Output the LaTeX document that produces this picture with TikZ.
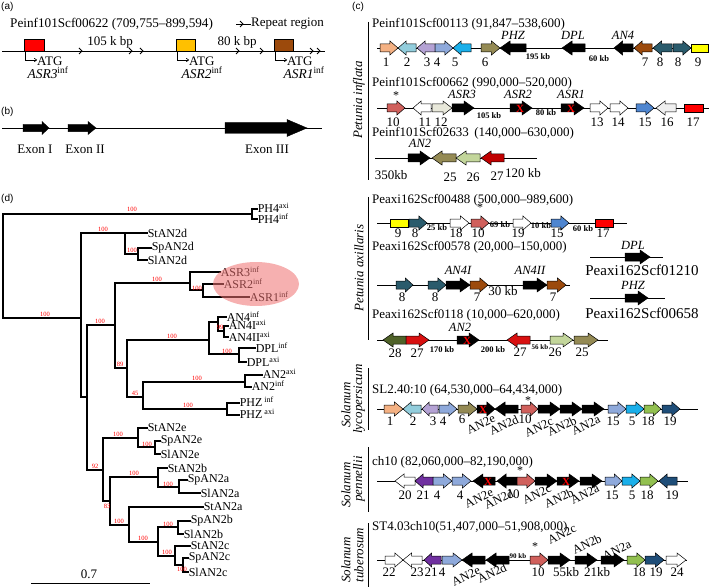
\documentclass[tikz,border=0pt]{standalone}
\usepackage{fontspec}
\usetikzlibrary{arrows.meta}
\setmainfont{Liberation Serif}
\setsansfont{Liberation Sans}
\definecolor{cpeach}{HTML}{F4B183}
\definecolor{clblue}{HTML}{92CDDC}
\definecolor{clav}{HTML}{B4A2D4}
\definecolor{csteel}{HTML}{8EA9DB}
\definecolor{cbright}{HTML}{1AAFEA}
\definecolor{colive}{HTML}{948A54}
\definecolor{cbrown}{HTML}{9C4A0C}
\definecolor{cteal}{HTML}{2A5B6C}
\definecolor{cyellow}{HTML}{FFFF00}
\definecolor{csalmon}{HTML}{D0605C}
\definecolor{cbeige}{HTML}{E8E8DA}
\definecolor{cblue}{HTML}{4F86D0}
\definecolor{cgray}{HTML}{EFEFEF}
\definecolor{cred}{HTML}{FF0000}
\definecolor{cdred}{HTML}{C00000}
\definecolor{cred2}{HTML}{D81010}
\definecolor{clgreen}{HTML}{C3D69B}
\definecolor{cdkgreen}{HTML}{4F6228}
\definecolor{cygreen}{HTML}{92C050}
\definecolor{cnavy}{HTML}{1F4E79}
\definecolor{cpurple}{HTML}{7030A0}
\definecolor{aorange}{HTML}{FFC000}
\definecolor{pinkE}{HTML}{EE7070}
\newcommand{\gR}[4]{%
 \pgfmathsetmacro{\gnhx}{#2-min(10,0.45*(#2-#1))}%
 \filldraw[gene,fill=#4] (#1,#3-4) -- (\gnhx,#3-4) -- (\gnhx,#3-7) -- (#2,#3) -- (\gnhx,#3+7) -- (\gnhx,#3+4) -- (#1,#3+4) -- cycle;}
\newcommand{\gL}[4]{%
 \pgfmathsetmacro{\gnhx}{#1+min(10,0.45*(#2-#1))}%
 \filldraw[gene,fill=#4] (#2,#3-4) -- (\gnhx,#3-4) -- (\gnhx,#3-7) -- (#1,#3) -- (\gnhx,#3+7) -- (\gnhx,#3+4) -- (#2,#3+4) -- cycle;}
\newcommand{\gB}[4]{\filldraw[gene,fill=#4] (#1,#3-4) rectangle (#2,#3+4);}
\newcommand{\gX}[2]{\node[redx] at (#1,#2) {X};}
\newcommand{\gnum}[3]{\node[num] at (#1,#2) {#3};}
\newcommand{\kbl}[3]{\node[kb] at (#1,#2) {#3};}
\newcommand{\gnl}[3]{\node[gn] at (#1,#2) {#3};}
\newcommand{\tleaf}[3]{\node[leaf] at (#1,#2) {#3};}
\newcommand{\bsl}[3]{\node[bs] at (#1,#2) {#3};}
\newcommand{\sps}[1]{\textsuperscript{#1}}
\begin{document}
\begin{tikzpicture}[x=1pt,y=-1pt,
 gene/.style={draw=black,line width=0.5pt},
 ln/.style={line width=0.75pt},
 tr/.style={line width=1.1pt,line cap=rect},
 pan/.style={font=\sffamily\fontsize{10}{11}\selectfont,inner sep=0pt,anchor=west},
 ttla/.style={font=\fontsize{13.2}{15}\selectfont,inner sep=0pt,anchor=west},
 ttl/.style={font=\fontsize{13}{15}\selectfont,inner sep=0pt,anchor=west},
 lab/.style={font=\fontsize{13}{14}\selectfont,inner sep=0pt},
 num/.style={font=\fontsize{13}{14}\selectfont,inner sep=0pt},
 kb/.style={font=\bfseries\fontsize{8.5}{9}\selectfont,inner sep=0pt},
 gn/.style={font=\itshape\fontsize{12.5}{13}\selectfont,inner sep=0pt},
 rl/.style={font=\fontsize{12.5}{13}\selectfont,inner sep=0pt,rotate=25},
 sp/.style={font=\itshape\fontsize{13}{14}\selectfont,inner sep=0pt,rotate=90},
 redx/.style={font=\bfseries\fontsize{11}{12}\selectfont,text=red,inner sep=0pt},
 leaf/.style={font=\fontsize{12}{13}\selectfont,inner sep=0.6pt,anchor=west},
 bs/.style={font=\fontsize{6.5}{7}\selectfont,text=red,inner sep=0pt},
 star/.style={font=\fontsize{12}{13}\selectfont,inner sep=0pt}]
\useasboundingbox (0,0) rectangle (709,588);

% ================= (a) =================
\node[pan] (pa) at (1,7) {(a)};
\node[ttla] (ta) at (10,24) {Peinf101Scf00622 (709,755--899,594)};
\draw[ln] (236,24) -- (251,24);
\draw[ln] (240,21) -- (243,24) -- (240,27);
\node[lab,anchor=west] (rep) at (251,24) {Repeat region};
\draw[ln] (2,51) -- (325,51);
\foreach \x in {82,132,143,239,263,313,320} \draw[ln] (\x-3,48) -- (\x,51) -- (\x-3,54);
\filldraw[gene,fill=cred] (24,39) rectangle (44,51);
\filldraw[gene,fill=aorange] (176,39) rectangle (195,51);
\filldraw[gene,fill=cbrown] (274,39) rectangle (293,51);
\foreach \x in {25,177,275} {
  \draw[line width=0.6pt,-{To[length=3pt,width=4pt]}] (\x,51) |- (\x+12,60);
  \node[lab,anchor=west] at (\x+12,61) {ATG};
}
\node[lab,font=\fontsize{13.5}{14}\selectfont] (asr3a) at (48,73) {\textit{ASR3}\sps{inf}};
\node[lab,font=\fontsize{13.5}{14}\selectfont] (asr2a) at (202,73) {\textit{ASR2}\sps{inf}};
\node[lab,font=\fontsize{13.5}{14}\selectfont] (asr1a) at (304,73) {\textit{ASR1}\sps{inf}};
\node[lab] (d105) at (110,42) {105 k bp};
\node[lab] (d80) at (237,42) {80 k bp};

% ================= (b) =================
\node[pan] (pb) at (1,112) {(b)};
\draw[ln] (2,128) -- (322,128);
\filldraw[black] (23,124.3) -- (42,124.3) -- (42,121.5) -- (49,128) -- (42,134.5) -- (42,131.7) -- (23,131.7) -- cycle;
\filldraw[black] (68,124.3) -- (88,124.3) -- (88,121.5) -- (96,128) -- (88,134.5) -- (88,131.7) -- (68,131.7) -- cycle;
\filldraw[black] (225,122.5) -- (287,122.5) -- (287,119.5) -- (307,128) -- (287,136.5) -- (287,133.5) -- (225,133.5) -- cycle;
\node[lab] (e1) at (35,149) {Exon I};
\node[lab] (e2) at (85,149) {Exon II};
\node[lab] (e3) at (267,149) {Exon III};

% ================= (d) tree =================
\node[pan] (pd) at (1,199) {(d)};
\draw[tr] (3,214) -- (3,318) (3,214) -- (252,214) (252,209) -- (252,219) (252,209) -- (257,209) (252,219) -- (257,219);
\draw[tr] (3,318) -- (81,318) (81,233) -- (81,397);
\draw[tr] (81,233) -- (125,233) (125,233) -- (125,254) (125,233) -- (147,233) (125,254) -- (138,254) (138,248) -- (138,260) (138,248) -- (151,248) (138,260) -- (147,260);
\draw[tr] (81,397) -- (87,397) (87,325) -- (87,470) (87,325) -- (115,325) (115,283) -- (115,368);
\draw[tr] (115,283) -- (190,283) (190,272) -- (190,290) (190,272) -- (220,272) (190,290) -- (203,290) (203,284) -- (203,297) (203,284) -- (223,284) (203,297) -- (249,297);
\draw[tr] (115,368) -- (127,368) (127,340) -- (127,397) (127,340) -- (209,340) (209,322) -- (209,354);
\draw[tr] (209,322) -- (218,322) (218,317) -- (218,331) (218,317) -- (226,317) (218,331) -- (224,331) (224,326) -- (224,337) (224,326) -- (228,326) (224,337) -- (228,337);
\draw[tr] (209,354) -- (239,354) (239,348) -- (239,362) (239,348) -- (255,348) (239,362) -- (246,362);
\draw[tr] (127,397) -- (143,397) (143,382) -- (143,409) (143,382) -- (245,382) (245,375) -- (245,387) (245,375) -- (262,375) (245,387) -- (251,387);
\draw[tr] (143,409) -- (227,409) (227,403) -- (227,415) (227,403) -- (239,403) (227,415) -- (239,415);
\draw[tr] (87,470) -- (103,470) (103,438) -- (103,501) (103,438) -- (138,438) (138,428) -- (138,447) (138,428) -- (147,428) (138,447) -- (155,447) (155,441) -- (155,454) (155,441) -- (160,441) (155,454) -- (160,454);
\draw[tr] (103,501) -- (110,501) (110,477) -- (110,525) (110,477) -- (158,477) (158,468) -- (158,487) (158,468) -- (167,468) (158,487) -- (179,487) (179,480) -- (179,493) (179,480) -- (187,480) (179,493) -- (200,493);
\draw[tr] (110,525) -- (129,525) (129,507) -- (129,542) (129,507) -- (203,507) (129,542) -- (158,542) (158,527) -- (158,556) (158,527) -- (178,527) (178,521) -- (178,534) (178,521) -- (190,521) (178,534) -- (183,534);
\draw[tr] (158,556) -- (175,556) (175,546) -- (175,565) (175,546) -- (190,546) (175,565) -- (183,565) (183,558) -- (183,572) (183,558) -- (188,558) (183,572) -- (188,572);
% leaves
\tleaf{257}{208}{PH4\sps{axi}}
\tleaf{257}{219}{PH4\sps{inf}}
\tleaf{147}{233}{StAN2d}
\tleaf{151}{248}{SpAN2d}
\tleaf{147}{260}{SlAN2d}
\tleaf{220}{272}{ASR3\sps{inf}}
\tleaf{223}{284}{ASR2\sps{inf}}
\tleaf{249}{297}{ASR1\sps{inf}}
\fill[pinkE,opacity=0.55] (256,284) ellipse [x radius=43, y radius=22];
\tleaf{226}{317}{AN4\sps{inf}}
\tleaf{228}{325}{AN4I\sps{axi}}
\tleaf{228}{337}{AN4II\sps{axi}}
\tleaf{255}{348}{DPL\sps{inf}}
\tleaf{246}{362}{DPL\sps{axi}}
\tleaf{262}{374}{AN2\sps{axi}}
\tleaf{251}{386}{AN2\sps{inf}}
\tleaf{239}{402}{PHZ\sps{ inf}}
\tleaf{239}{414}{PHZ\sps{ axi}}
\tleaf{147}{428}{StAN2e}
\tleaf{160}{441}{SpAN2e}
\tleaf{160}{454}{SlAN2e}
\tleaf{167}{468}{StAN2b}
\tleaf{187}{480}{SpAN2a}
\tleaf{200}{493}{SlAN2a}
\tleaf{203}{507}{StAN2a}
\tleaf{190}{521}{SpAN2b}
\tleaf{183}{534}{SlAN2b}
\tleaf{190}{546}{StAN2c}
\tleaf{188}{558}{SpAN2c}
\tleaf{188}{572}{SlAN2c}
% bootstrap
\bsl{132}{209}{100} \bsl{45}{314}{100} \bsl{103}{229}{100} \bsl{132}{250}{100}
\bsl{100}{321}{100} \bsl{157}{279}{100} \bsl{197}{288}{100} \bsl{120}{364}{89}
\bsl{172}{336}{100} \bsl{220}{327}{99} \bsl{227}{351}{100} \bsl{135}{393}{45}
\bsl{197}{378}{100} \bsl{188}{405}{100} \bsl{95}{466}{92} \bsl{118}{434}{100}
\bsl{147}{444}{100} \bsl{107}{506}{83} \bsl{134}{473}{100} \bsl{168}{484}{100}
\bsl{119}{521}{100} \bsl{143}{538}{100} \bsl{168}{524}{100} \bsl{167}{552}{100}
\bsl{182}{569}{100}
% scale bar
\draw[line width=1pt] (31,583) -- (150,583);
\node[lab] (sc) at (89,574) {0.7};

% ================= (c) =================
\node[pan] (pc) at (352,7) {(c)};
% species bars
\draw[line width=0.8pt] (368,22) -- (368,180);
\draw[line width=0.8pt] (368,197) -- (368,340);
\draw[line width=0.8pt] (368,368) -- (368,430);
\draw[line width=0.8pt] (368,447) -- (368,512);
\draw[line width=0.8pt] (368,523) -- (368,587);
\node[sp] (s1) at (359,100) {Petunia inflata};
\node[sp] (s2) at (359,268) {Petunia axillaris};
\node[sp] (s3a) at (346,405) {Solanum};
\node[sp] (s3b) at (359,399) {lycopersicum};
\node[sp] (s4a) at (346,485) {Solanum};
\node[sp] (s4b) at (359,479) {pennellii};
\node[sp] (s5a) at (346,560) {Solanum};
\node[sp] (s5b) at (359,555) {tuberosum};

% ---- row 1
\node[ttl] (r1) at (372,24) {Peinf101Scf00113 (91,847--538,600)};
\draw[ln] (377,48) -- (709,48);
\gR{380}{398}{48}{cpeach} \gL{398}{416}{48}{clblue} \gL{417}{435}{48}{clav}
\gR{435}{453}{48}{csteel} \gL{453}{471}{48}{cbright} \gR{481}{500}{48}{colive}
\gL{500}{526}{48}{black} \gL{562}{585}{48}{black} \gL{614}{633}{48}{black}
\gL{634}{652}{48}{cbrown} \gL{653}{672}{48}{cteal} \gR{673}{691}{48}{cteal}
\gB{691}{708.5}{48}{cyellow}
\gnum{386}{62}{1} \gnum{407}{62}{2} \gnum{427}{62}{3} \gnum{437}{62}{4} \gnum{455}{62}{5}
\gnum{485}{62}{6} \gnum{645}{62}{7} \gnum{660}{62}{8} \gnum{678}{62}{8} \gnum{698}{62}{9}
\gnl{513}{35}{PHZ} \gnl{573}{35}{DPL} \gnl{623}{35}{AN4}
\kbl{538}{57}{195 kb} \kbl{599}{59}{60 kb}

% ---- row 2
\node[ttl] (r2) at (372,83) {Peinf101Scf00662 (990,000--520,000)};
\draw[ln] (377,108) -- (709,108);
\gR{387}{405}{108}{csalmon} \gL{413}{431}{108}{white} \gR{432}{452}{108}{cbeige}
\gR{452}{474}{108}{black} \gR{510}{532}{108}{black} \gR{561}{584}{108}{black}
\gX{520}{109} \gX{571}{109}
\gR{590}{608}{108}{white} \gR{610}{628}{108}{white} \gR{636}{654}{108}{cblue}
\gL{656}{676}{108}{cgray} \gB{684}{703}{108}{cred}
\node[star] at (396,96) {*};
\gnl{462}{94}{ASR3} \gnl{518}{94}{ASR2} \gnl{571}{94}{ASR1}
\kbl{489}{116}{105 kb} \kbl{546}{113}{80 kb}
\gnum{393}{122}{10} \gnum{425}{122}{11} \gnum{441}{122}{12} \gnum{597}{122}{13}
\gnum{618}{122}{14} \gnum{645}{122}{15} \gnum{667}{122}{16} \gnum{693}{122}{17}

% ---- row 3
\node[ttl] (r3) at (372,133) {Peinf101Scf02633\, (140,000--630,000)};
\draw[ln] (375,158) -- (537,158);
\gR{408}{430}{158}{black} \gL{432}{456}{158}{colive} \gL{456}{480}{158}{clgreen} \gL{481}{504}{158}{cdred}
\gnl{420}{143}{AN2}
\node[num] at (391,175) {350kb};
\gnum{450}{177}{25} \gnum{473}{177}{26} \gnum{497}{176}{27}
\node[num] at (523,173) {120 kb};

% ---- row 4
\node[ttl] (r4) at (372,200) {Peaxi162Scf00488 (500,000--989,600)};
\draw[ln] (377,223) -- (627,223);
\gB{390}{408}{223}{cyellow} \gR{409}{427}{223}{cteal} \gR{450}{469}{223}{white}
\gR{471}{489}{223}{csalmon} \gR{513}{531}{223}{white} \gR{551}{569}{223}{cblue}
\gB{595}{613}{223}{cred}
\node[star] at (480,208) {*};
\kbl{437}{228}{25 kb} \kbl{500}{225}{69 kb} \kbl{541}{226}{10 kb} \kbl{583}{229}{60 kb}
\gnum{398}{233}{9} \gnum{415}{233}{8} \gnum{456}{233}{18} \gnum{478}{233}{10}
\gnum{518}{233}{19} \gnum{557}{233}{15} \gnum{603}{233}{17}

% ---- row 5
\node[ttl] (r5) at (372,247) {Peaxi162Scf00578 (20,000--150,000)};
\draw[ln] (377,285) -- (570,285);
\gR{396}{413}{285}{cteal} \gR{428}{446}{285}{cteal} \gR{446}{470}{285}{black}
\gR{470}{488}{285}{cbrown} \gR{523}{547}{285}{black} \gR{547}{566}{285}{cbrown}
\gnl{458}{270}{AN4I} \gnl{530}{270}{AN4II}
\node[num] at (503,291) {30 kb};
\gnum{402}{297}{8} \gnum{435}{297}{8} \gnum{477}{297}{7} \gnum{553}{297}{7}
% DPL, PHZ single
\draw[ln] (590,257) -- (663,257);
\gR{625}{650}{257}{black}
\gnl{633}{245}{DPL}
\node[font=\fontsize{15}{16}\selectfont,inner sep=0pt] (p1210) at (642,270) {Peaxi162Scf01210};
\draw[ln] (590,298) -- (665,298);
\gR{625}{648}{298}{black}
\gnl{633}{285}{PHZ}
\node[font=\fontsize{15}{16}\selectfont,inner sep=0pt] (p0658) at (642,313) {Peaxi162Scf00658};

% ---- row 6
\node[ttl] (r6) at (372,315) {Peaxi162Scf0118 (10,000--620,000)};
\draw[ln] (377,340) -- (608,340);
\gL{383}{406}{340}{cdkgreen} \gR{406}{429}{340}{cred2} \gR{457}{479}{340}{black}
\gX{467}{341}
\gL{507}{530}{340}{cred2} \gR{550}{573}{340}{clgreen} \gR{574}{598}{340}{colive}
\gnl{460}{327}{AN2}
\node[font=\bfseries\fontsize{8.5}{9}\selectfont,inner sep=0pt] at (442,350) {170 kb};
\node[font=\bfseries\fontsize{8.5}{9}\selectfont,inner sep=0pt] at (493,350) {200 kb};
\node[font=\bfseries\fontsize{7}{8}\selectfont,inner sep=0pt] at (540,347) {56 kb};
\gnum{395}{353}{28} \gnum{417}{353}{27} \gnum{520}{352}{27} \gnum{555}{352}{26} \gnum{582}{352}{25}

% ---- row 7
\node[ttl] (r7) at (372,390) {SL2.40:10 (64,530,000--64,434,000)};
\draw[ln] (377,409) -- (698,409);
\gR{384}{403}{409}{cpeach} \gL{403}{421}{409}{clblue} \gL{422}{438}{409}{clav}
\gR{439}{457}{409}{csteel} \gR{458}{477}{409}{colive} \gR{477}{495}{409}{black}
\gX{483}{410}
\gL{495}{518}{409}{black} \gR{521}{538}{409}{csalmon} \gR{538}{560}{409}{black}
\gR{560}{582}{409}{black} \gR{582}{604}{409}{black} \gR{608}{626}{409}{csteel}
\gR{626}{644}{409}{cbright} \gR{644}{661}{409}{cygreen} \gR{662}{680}{409}{cnavy}
\node[star] at (528,401) {*};
\gnum{390}{421}{1} \gnum{413}{421}{2} \gnum{433}{421}{3} \gnum{443}{421}{4} \gnum{462}{419}{6}
\gnum{525}{419}{10} \gnum{613}{421}{15} \gnum{632}{421}{5} \gnum{648}{421}{18} \gnum{670}{421}{19}
\node[rl] at (481,424) {AN2e}; \node[rl] at (504,425) {AN2d};
\node[rl] at (539,427) {AN2c}; \node[rl] at (562,426) {AN2b}; \node[rl] at (586,425) {AN2a};

% ---- row 8
\node[ttl] (r8) at (372,462) {ch10 (82,060,000--82,190,000)};
\draw[ln] (377,481) -- (688,481);
\gL{395}{415}{481}{white} \gL{415}{433}{481}{cpurple} \gR{433}{452}{481}{csteel}
\gR{452}{471}{481}{csteel} \gL{473}{495}{481}{black} \gL{497}{517}{481}{black}
\gX{488}{482}
\gR{517}{535}{481}{csalmon} \gR{535}{557}{481}{black} \gR{557}{579}{481}{black}
\gX{566}{482}
\gR{580}{602}{481}{black} \gR{605}{622}{481}{csteel} \gR{622}{640}{481}{cbright}
\gR{640}{658}{481}{cygreen} \gL{659}{677}{481}{cnavy}
\node[star] at (520,471) {*};
\gnum{405}{495}{20} \gnum{423}{495}{21} \gnum{437}{495}{4} \gnum{460}{495}{4}
\gnum{513}{494}{10} \gnum{612}{495}{15} \gnum{632}{495}{5} \gnum{647}{495}{18} \gnum{672}{495}{19}
\node[rl] at (479,498) {AN2e}; \node[rl] at (499,499) {AN2d};
\node[rl] at (537,494) {AN2c}; \node[rl] at (559,498) {AN2b}; \node[rl] at (585,494) {AN2a};

% ---- row 9
\node[ttl] (r9) at (372,527) {ST4.03ch10(51,407,000--51,908,000)};
\draw[ln] (377,560) -- (687,560);
\gR{385}{403}{560}{white} \gL{403}{422}{560}{white} \gL{424}{441}{560}{cpurple}
\gR{442}{462}{560}{csteel} \gL{462}{485}{560}{black} \gL{486}{509}{560}{black}
\gR{530}{548}{560}{csalmon} \gR{548}{570}{560}{black} \gR{575}{597}{560}{black}
\gR{601}{624}{560}{black} \gR{627}{645}{560}{cygreen} \gR{645}{664}{560}{cnavy}
\gR{666}{686}{560}{white}
\node[star] at (535,547) {*};
\node[font=\bfseries\fontsize{7}{8}\selectfont,inner sep=0pt] at (518,556) {90 kb};
\gnum{389}{572}{22} \gnum{417}{572}{23} \gnum{431}{572}{21} \gnum{442}{572}{4}
\gnum{538}{572}{10} \gnum{566}{572}{55kb} \gnum{597}{572}{21kb}
\gnum{639}{572}{18} \gnum{656}{572}{19} \gnum{677}{572}{24}
\node[rl] at (466,576) {AN2e}; \node[rl] at (492,573) {AN2d};
\node[rl] at (562,534) {AN2c}; \node[rl] at (587,544) {AN2b}; \node[rl] at (617,550) {AN2a};
\end{tikzpicture}
\end{document}
